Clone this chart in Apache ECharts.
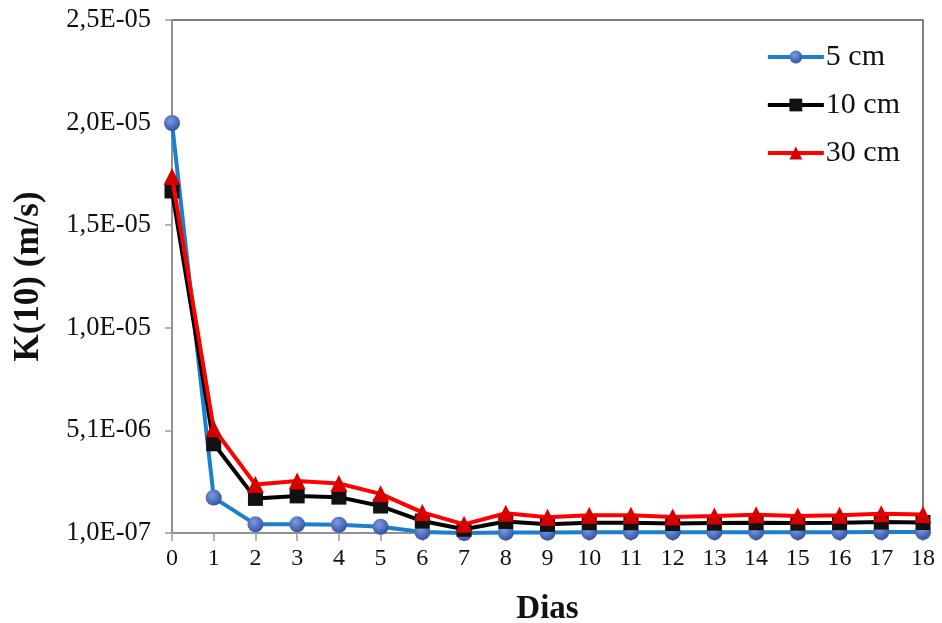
<!DOCTYPE html>
<html>
<head>
<meta charset="utf-8">
<script src="https://cdn.jsdelivr.net/npm/echarts@6/dist/echarts.min.js"></script>
<style>
  html, body { margin: 0; padding: 0; background: #fff; }
  #chart { width: 942px; height: 623px; }
</style>
</head>
<body>
<div id="chart"></div>
<script>
// Days of measurement
const days = [0, 1, 2, 3, 4, 5, 6, 7, 8, 9, 10, 11, 12, 13, 14, 15, 16, 17, 18];

// K(10) in m/s at each depth
const k5cm  = [2.00e-5, 1.82e-6, 5.2e-7, 5.2e-7, 5.0e-7, 4.0e-7, 1.5e-7, 1.0e-7, 1.2e-7, 1.2e-7,
               1.4e-7, 1.4e-7, 1.4e-7, 1.4e-7, 1.4e-7, 1.4e-7, 1.4e-7, 1.5e-7, 1.5e-7];
const k10cm = [1.67e-5, 4.43e-6, 1.78e-6, 1.90e-6, 1.84e-6, 1.41e-6, 6.8e-7, 2.8e-7, 6.6e-7, 5.2e-7,
               6.0e-7, 6.0e-7, 5.6e-7, 5.8e-7, 6.0e-7, 5.8e-7, 6.0e-7, 6.3e-7, 6.1e-7];
const k30cm = [1.74e-5, 5.16e-6, 2.45e-6, 2.62e-6, 2.50e-6, 2.00e-6, 1.10e-6, 5.2e-7, 1.06e-6, 8.6e-7,
               9.6e-7, 9.6e-7, 8.8e-7, 9.2e-7, 9.8e-7, 9.2e-7, 9.6e-7, 1.04e-6, 1.00e-6];

// Y axis ticks
const yTicks = [1.0e-7, 5.08e-6, 1.006e-5, 1.504e-5, 2.002e-5, 2.5e-5];

const seriesNames = ['5 cm', '10 cm', '30 cm'];

function sci(v) {
  // 1.5e-5 -> "1,5E-05"
  const s = v.toExponential(1);
  const m = s.match(/^(-?[\d.]+)e([+-])(\d+)$/);
  const exp = m[3].length < 2 ? '0' + m[3] : m[3];
  return m[1].replace('.', ',') + 'E' + m[2] + exp;
}

function pairs(arr) { return days.map((d, i) => [d, arr[i]]); }

const serif = '"Liberation Serif", "Times New Roman", serif';

const chart = echarts.init(document.getElementById('chart'), null, { renderer: 'canvas' });

chart.setOption({
  backgroundColor: '#ffffff',
  animation: false,
  grid: {
    left: 172, right: 19, top: 20, bottom: 90,
    outerBoundsMode: 'none',
    containLabel: false,
    show: true, borderColor: '#555', borderWidth: 1.5, backgroundColor: 'transparent'
  },
  legend: {
    orient: 'vertical',
    right: 37, top: 37,
    itemWidth: 56, itemHeight: 16, itemGap: 18,
    lineStyle: { width: 4 },
    textStyle: { fontFamily: serif, fontSize: 30, color: '#111', padding: [0, 0, 0, -3] },
    data: seriesNames
  },
  xAxis: {
    type: 'value',
    min: 0, max: 18, interval: 1,
    name: 'Dias',
    nameLocation: 'middle',
    nameGap: 60,
    nameTextStyle: { fontFamily: serif, fontSize: 33, fontWeight: 'bold', color: '#111' },
    axisLine: { show: true, lineStyle: { color: '#999', width: 1.5 } },
    axisTick: { show: true, inside: false, length: 8, lineStyle: { color: '#999', width: 1.5 } },
    axisLabel: { fontFamily: serif, fontSize: 24, color: '#111', margin: 14 },
    splitLine: { show: false }
  },
  yAxis: {
    type: 'value',
    min: 1.0e-7, max: 2.5e-5,
    name: 'K(10) (m/s)',
    nameLocation: 'middle',
    nameGap: 126,
    nameRotate: 90,
    nameTextStyle: { fontFamily: serif, fontSize: 35, fontWeight: 'bold', color: '#111' },
    axisLine: { show: true, lineStyle: { color: '#999', width: 1.5 } },
    axisTick: { show: true, length: 7, customValues: yTicks, lineStyle: { color: '#999', width: 1.5 } },
    axisLabel: {
      fontFamily: serif, fontSize: 26.5, color: '#111', margin: 21,
      customValues: yTicks,
      formatter: sci
    },
    splitLine: { show: false }
  },
  series: [
    {
      name: seriesNames[0], type: 'line', data: pairs(k5cm),
      symbol: 'circle', symbolSize: 16,
      lineStyle: { color: '#1b7fcc', width: 4 },
      itemStyle: {
        color: new echarts.graphic.RadialGradient(0.4, 0.35, 0.7, [
          { offset: 0, color: '#7d9be0' },
          { offset: 1, color: '#2d4f9e' }
        ]),
        borderWidth: 0
      },
      z: 2
    },
    {
      name: seriesNames[1], type: 'line', data: pairs(k10cm),
      symbol: 'rect', symbolSize: 15,
      lineStyle: { color: '#000000', width: 4 },
      itemStyle: { color: '#111111', borderWidth: 0 },
      z: 3
    },
    {
      name: seriesNames[2], type: 'line', data: pairs(k30cm),
      symbol: 'triangle', symbolSize: 17,
      lineStyle: { color: '#ff0000', width: 4 },
      itemStyle: { color: '#d40000', borderWidth: 0 },
      z: 4
    }
  ]
});
</script>
</body>
</html>
